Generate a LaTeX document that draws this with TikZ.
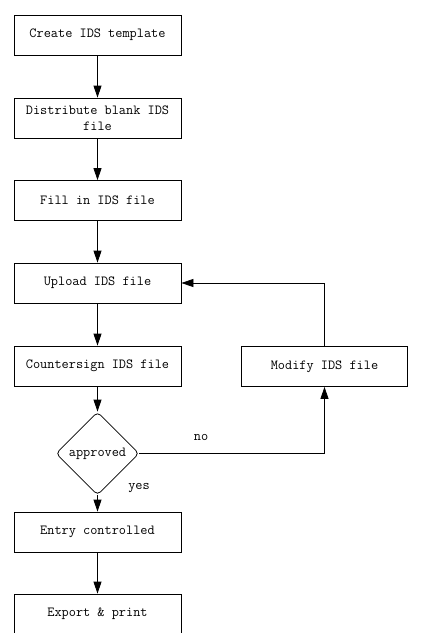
\documentclass[tikz,border=0pt]{standalone}
\usetikzlibrary{arrows.meta,shapes.geometric}
\begin{document}
\begin{tikzpicture}[x=1pt,y=-1pt,
  box/.style={draw,line width=0.8pt,minimum width=167pt,minimum height=40pt,inner sep=0pt,align=center,font=\fontsize{13.9}{16}\ttfamily},
  dec/.style={draw,line width=0.8pt,diamond,aspect=1,minimum width=83pt,minimum height=83pt,inner sep=0pt,rounded corners=4pt,font=\fontsize{13.9}{16}\ttfamily},
  lbl/.style={font=\fontsize{13.9}{16}\ttfamily,inner sep=0pt},
  arr/.style={line width=0.8pt,-{Triangle[width=8pt,length=12pt]}}]
\useasboundingbox (0,0) rectangle (422,633);
\node[box] (b1) at (97.5,35) {Create IDS template};
\node[box] (b2) at (97.5,118) {Distribute blank IDS\\file};
\node[box] (b3) at (97.5,200.5) {Fill in IDS file};
\node[box] (b4) at (97.5,283) {Upload IDS file};
\node[box] (b5) at (97.5,366) {Countersign IDS file};
\node[dec] (d) at (97.5,453.5) {approved};
\node[box] (b6) at (97.5,532) {Entry controlled};
\node[box] (b7) at (97.5,614) {Export \& print};
\node[box,minimum width=166pt] (m) at (324.5,366.5) {Modify IDS file};
\draw[arr] (b1) -- (b2);
\draw[arr] (b2) -- (b3);
\draw[arr] (b3) -- (b4);
\draw[arr] (b4) -- (b5);
\draw[arr] (b5) -- (d);
\draw[arr] (d) -- (b6);
\draw[arr] (b6) -- (b7);
\draw[arr] (d.east) -| (m.south);
\draw[arr] (m.north) |- (b4.east);
\node[lbl] (no) at (201,437) {no};
\node[lbl] (yes) at (139,488) {yes};
\end{tikzpicture}
\end{document}
